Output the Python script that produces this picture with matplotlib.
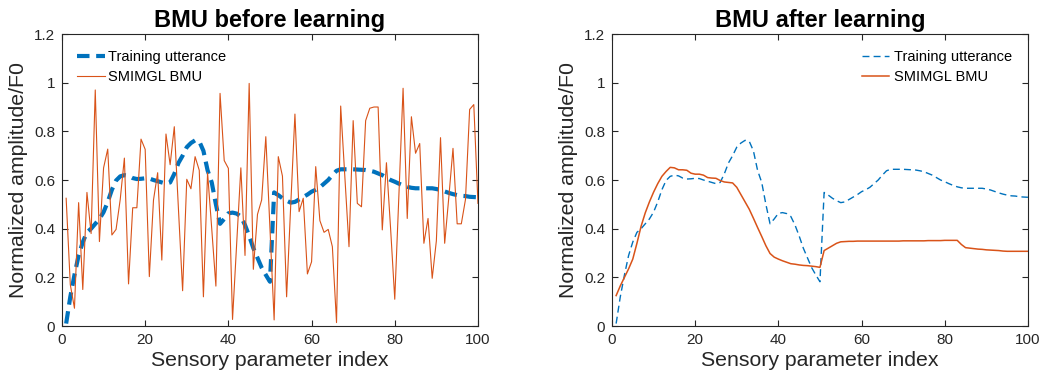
import numpy as np
import matplotlib
matplotlib.use('Agg')
import matplotlib.pyplot as plt

plt.rcParams['font.family'] = ['Liberation Sans', 'DejaVu Sans']

idx = np.arange(1, 101)

# training utterance (same in both panels)
training = [0.01, 0.12, 0.21, 0.29, 0.345, 0.385, 0.40, 0.42, 0.44, 0.468,
            0.51, 0.56, 0.598, 0.615, 0.62, 0.617, 0.608, 0.604, 0.605, 0.607,
            0.606, 0.60, 0.595, 0.59, 0.585, 0.59, 0.625, 0.67, 0.70, 0.735,
            0.752, 0.763, 0.759, 0.72, 0.64, 0.59, 0.50, 0.42, 0.44, 0.463,
            0.466, 0.462, 0.45, 0.415, 0.37, 0.32, 0.28, 0.24, 0.21, 0.182,
            0.549, 0.538, 0.525, 0.515, 0.507, 0.51, 0.52, 0.53, 0.54, 0.552,
            0.56, 0.57, 0.585, 0.60, 0.62, 0.638, 0.644, 0.644, 0.644, 0.644,
            0.643, 0.642, 0.641, 0.638, 0.634, 0.627, 0.62, 0.61, 0.60, 0.593,
            0.585, 0.578, 0.572, 0.568, 0.566, 0.566, 0.566, 0.566, 0.566, 0.563,
            0.559, 0.553, 0.547, 0.542, 0.538, 0.535, 0.534, 0.531, 0.53, 0.529]

bmu_before = [0.525, 0.17, 0.073, 0.507, 0.15, 0.549, 0.38, 0.97, 0.347, 0.65,
              0.727, 0.374, 0.397, 0.52, 0.69, 0.173, 0.486, 0.486, 0.768, 0.726,
              0.203, 0.518, 0.63, 0.271, 0.789, 0.663, 0.819, 0.48, 0.145, 0.603,
              0.564, 0.696, 0.64, 0.12, 0.63, 0.40, 0.164, 0.956, 0.68, 0.648,
              0.027, 0.34, 0.65, 0.29, 0.997, 0.233, 0.459, 0.518, 0.778, 0.40,
              0.025, 0.696, 0.616, 0.12, 0.50, 0.871, 0.47, 0.525, 0.214, 0.264,
              0.655, 0.433, 0.385, 0.397, 0.326, 0.014, 0.904, 0.614, 0.326, 0.844,
              0.504, 0.49, 0.844, 0.895, 0.90, 0.90, 0.395, 0.671, 0.40, 0.11,
              0.54, 0.977, 0.442, 0.86, 0.71, 0.75, 0.34, 0.442, 0.196, 0.35,
              0.774, 0.34, 0.53, 0.73, 0.42, 0.42, 0.52, 0.89, 0.91, 0.504]

bmu_after = [0.125, 0.165, 0.20, 0.235, 0.275, 0.34, 0.41, 0.465, 0.51, 0.55,
             0.585, 0.615, 0.635, 0.652, 0.65, 0.642, 0.642, 0.64, 0.628, 0.624,
             0.624, 0.62, 0.61, 0.608, 0.607, 0.598, 0.592, 0.59, 0.588, 0.57,
             0.54, 0.51, 0.48, 0.443, 0.405, 0.368, 0.33, 0.298, 0.283, 0.275,
             0.268, 0.262, 0.256, 0.254, 0.251, 0.249, 0.248, 0.246, 0.244, 0.241,
             0.31, 0.32, 0.33, 0.34, 0.346, 0.347, 0.348, 0.348, 0.349, 0.349,
             0.349, 0.349, 0.349, 0.349, 0.349, 0.349, 0.349, 0.349, 0.349, 0.35,
             0.35, 0.35, 0.35, 0.35, 0.35, 0.351, 0.351, 0.351, 0.351, 0.352,
             0.352, 0.352, 0.352, 0.335, 0.322, 0.32, 0.318, 0.316, 0.315, 0.313,
             0.312, 0.311, 0.31, 0.308, 0.307, 0.307, 0.307, 0.307, 0.307, 0.307]

blue = '#0072BD'
orange = '#D95319'
axcol = '#262626'

fig = plt.figure(figsize=(10.47, 3.83), dpi=100)
ax1 = fig.add_axes([0.0592, 0.1488, 0.3973, 0.7624])
ax2 = fig.add_axes([0.5845, 0.1488, 0.3973, 0.7624])

ax1.plot(idx, training, '--', color=blue, lw=3, dashes=(3, 1.6), label='Training utterance')
ax1.plot(idx, bmu_before, '-', color=orange, lw=0.8, label='SMIMGL BMU')
ax1.set_title('BMU before learning', fontsize=17, fontweight='bold', pad=5)

ax2.plot(idx, training, '--', color=blue, lw=1, dashes=(5, 3), label='Training utterance')
ax2.plot(idx, bmu_after, '-', color=orange, lw=1.1, label='SMIMGL BMU')
ax2.set_title('BMU after learning', fontsize=17, fontweight='bold', pad=5)

for ax in (ax1, ax2):
    ax.set_xlim(0, 100)
    ax.set_ylim(0, 1.2)
    ax.set_xticks(range(0, 101, 20))
    ax.set_yticks([0, 0.2, 0.4, 0.6, 0.8, 1, 1.2])
    ax.set_yticklabels(['0', '0.2', '0.4', '0.6', '0.8', '1', '1.2'])
    ax.tick_params(direction='in', top=True, right=True, labelsize=11,
                   colors=axcol, length=4, pad=5)
    for s in ax.spines.values():
        s.set_color(axcol)
        s.set_linewidth(0.8)
    ax.set_xlabel('Sensory parameter index', fontsize=15.3, color=axcol, labelpad=3)
    ax.set_ylabel('Normalized amplitude/F0', fontsize=15.3, color=axcol, labelpad=4)

ax1.legend(loc='upper left', frameon=False, fontsize=10.5, handlelength=1.9,
           handletextpad=0.25, bbox_to_anchor=(0.022, 0.965), borderaxespad=0,
           labelspacing=0.4)
ax2.legend(loc='upper right', frameon=False, fontsize=10.5, handlelength=1.9,
           handletextpad=0.3, bbox_to_anchor=(0.975, 0.965), borderaxespad=0,
           labelspacing=0.4)

fig.savefig('out.png', dpi=100)
